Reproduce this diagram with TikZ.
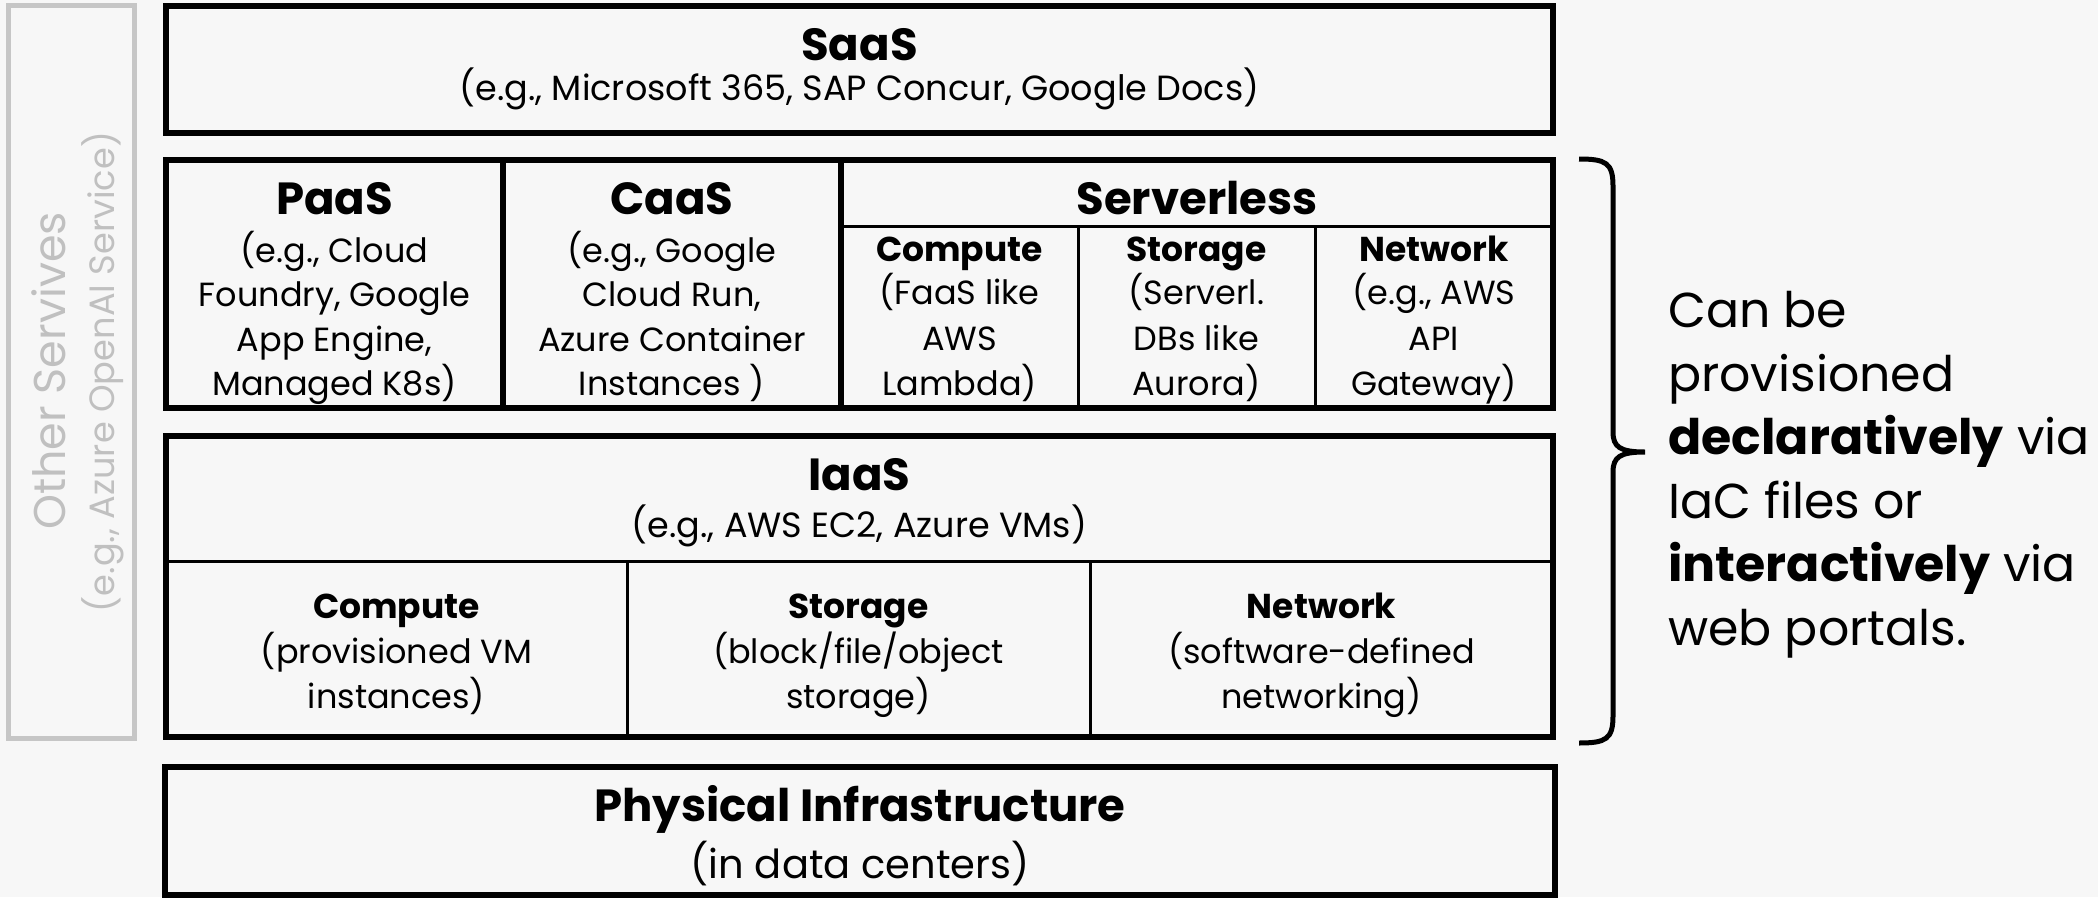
\documentclass[tikz,border=0pt]{standalone}
\usepackage{fontspec}
\setmainfont{Poppins}
\definecolor{bgc}{HTML}{F7F7F7}
\definecolor{graybox}{HTML}{C6C6C6}
\definecolor{graytxt}{HTML}{C0C0C0}
\begin{document}
\begin{tikzpicture}[x=1pt,y=-1pt,
  frame/.style={draw=black, line width=6pt, rectangle, inner sep=0pt, outer sep=0pt},
  thick/.style={line width=6pt},
  thinline/.style={line width=3pt},
  ttl/.style={font=\fontsize{45}{45}\selectfont\bfseries, text height=32pt, text depth=0pt, inner sep=0pt},
  sub/.style={font=\fontsize{34.5}{34.5}\selectfont\bfseries, text height=24pt, text depth=0pt, inner sep=0pt},
  body/.style={font=\fontsize{33.5}{33.5}\selectfont, text height=23.3pt, text depth=0pt, inner sep=0pt},
  ex/.style={font=\fontsize{35}{35}\selectfont, text height=24.5pt, text depth=0pt, inner sep=0pt},
]
\fill[bgc] (0,0) rectangle (2098,897);
\clip (0,0) rectangle (2098,897);

% grey side box
\node[draw=graybox, line width=5pt, rectangle, inner sep=0pt, minimum width=126pt, minimum height=733pt] (other) at (71,371.5) {};
\node[rotate=90, text=graytxt, font=\fontsize{44.5}{44.5}\selectfont, text height=31.5pt, text depth=0pt, inner sep=0pt] (otherT) at (50,371) {Other Servives};
\node[rotate=90, text=graytxt, font=\fontsize{35.2}{35.2}\selectfont, text height=24.5pt, text depth=0pt, inner sep=0pt] (otherS) at (102,372) {(e.g., Azure OpenAI Service)};

% SaaS
\node[frame, minimum width=1387pt, minimum height=127.5pt] (saas) at (859.5,69.25) {};
\node[ttl] (saasT) at (859.5,44) {SaaS};
\node[ex] (saasS) at (859.5,88) {(e.g., Microsoft 365, SAP Concur, Google Docs)};

% middle row
\node[frame, minimum width=1387pt, minimum height=248pt] (mid) at (859.5,284) {};
\coordinate (d1) at (503,0);
\coordinate (d2) at (841,0);
\coordinate (d3) at (1078,0);
\coordinate (d4) at (1315,0);
\coordinate (sl) at (0,226);
\draw[thick] (d1 |- mid.north) -- (d1 |- mid.south);
\draw[thick] (d2 |- mid.north) -- (d2 |- mid.south);
\draw[thinline] (d2 |- sl) -- (sl -| mid.east);
\draw[thinline] (d3 |- sl) -- (d3 |- mid.south);
\draw[thinline] (d4 |- sl) -- (d4 |- mid.south);

\node[ttl] (paasT) at (334.5,198.5) {PaaS};
\foreach \t [count=\i] in {{(e.g., Cloud},{Foundry, Google},{App Engine,},{Managed K8s)}}
  \node[body] (paas-\i) at (334.5,206.7+44.3*\i) {\t};
\node[ttl] (caasT) at (672,198.5) {CaaS};
\foreach \t [count=\i] in {{(e.g., Google},{Cloud Run,},{Azure Container},{Instances )}}
  \node[body] (caas-\i) at (672,206.7+44.3*\i) {\t};
\node[ttl] (slT) at (1197,198.5) {Serverless};
\node[sub] (scT) at (959.5,249) {Compute};
\foreach \t [count=\i] in {{(FaaS like},{AWS},{Lambda)}}
  \node[body] (sc-\i) at (959.5,247.5+45.5*\i) {\t};
\node[sub] (ssT) at (1196.5,249) {Storage};
\foreach \t [count=\i] in {{(Serverl.},{DBs like},{Aurora)}}
  \node[body] (ss-\i) at (1196.5,247.5+45.5*\i) {\t};
\node[sub] (snT) at (1434,249) {Network};
\foreach \t [count=\i] in {{(e.g., AWS},{API},{Gateway)}}
  \node[body] (sn-\i) at (1434,247.5+45.5*\i) {\t};

% IaaS
\node[frame, minimum width=1387pt, minimum height=301pt] (iaas) at (859.5,586.5) {};
\coordinate (il) at (0,561);
\coordinate (e1) at (627,0);
\coordinate (e2) at (1090,0);
\draw[thinline] (il -| iaas.west) -- (il -| iaas.east);
\draw[thinline] (e1 |- il) -- (e1 |- iaas.south);
\draw[thinline] (e2 |- il) -- (e2 |- iaas.south);
\node[ttl] (iaasT) at (859.5,474) {IaaS};
\node[ex] (iaasS) at (859.5,525) {(e.g., AWS EC2, Azure VMs)};
\node[sub] (icT) at (396.5,606) {Compute};
\foreach \t [count=\i] in {{(provisioned VM},{instances)}}
  \node[body] (ic-\i) at (396.5,607+45*\i) {\t};
\node[sub] (isT) at (858.5,606) {Storage};
\foreach \t [count=\i] in {{(block/file/object},{storage)}}
  \node[body] (is-\i) at (858.5,607+45*\i) {\t};
\node[sub] (inT) at (1321.5,606) {Network};
\foreach \t [count=\i] in {{(software-defined},{networking)}}
  \node[body] (in-\i) at (1321.5,607+45*\i) {\t};

% Physical
\node[frame, minimum width=1390pt, minimum height=128pt] (phys) at (860,831) {};
\node[ttl] (physT) at (860,805) {Physical Infrastructure};
\node[font=\fontsize{40}{40}\selectfont, text height=28pt, text depth=0pt, inner sep=0pt] (physS) at (860,864) {(in data centers)};

% brace
\coordinate (bt) at (1579,159);
\coordinate (bb) at (1579,743);
\coordinate (tip) at (1645,452);
\draw[line width=5pt] (bt) .. controls (1606,159) and (1613,163) .. (1613,186)
  -- (1613,432) .. controls (1613,447) and (1620,452) .. (tip)
  .. controls (1620,452) and (1613,457) .. (1613,472)
  -- (1613,716) .. controls (1613,739) and (1606,743) .. (bb);

\node[anchor=west, align=left, inner sep=0pt, font=\fontsize{49}{63.5}\selectfont] (note) at (1668,474.5)
  {Can be\\provisioned\\\textbf{declaratively} via\\IaC files or\\\textbf{interactively} via\\web portals.};
\end{tikzpicture}
\end{document}
